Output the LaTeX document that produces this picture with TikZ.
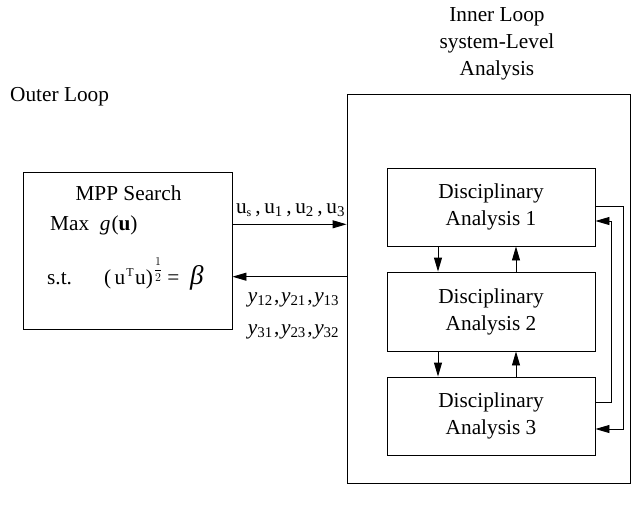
\documentclass[tikz,border=0pt]{standalone}
\usepackage{fontspec}
\setmainfont{Liberation Serif}
\usetikzlibrary{arrows.meta}
\begin{document}
\begin{tikzpicture}[x=1pt,y=-1pt,
  every node/.style={font=\fontsize{21.3}{27}\selectfont, inner sep=0pt},
  box/.style={draw, line width=0.9pt, minimum width=208pt},
  arr/.style={line width=0.9pt, -{Triangle[length=14pt,width=8pt]}},
  ln/.style={line width=0.9pt}]
\useasboundingbox (0,0) rectangle (638,515);

% headings
\node[anchor=base west] (outer) at (10,101) {Outer Loop};
\node[align=center, anchor=base] (inner) at (497,75) {Inner Loop\\system-Level\\Analysis};

% system-level frame
\node[draw, line width=0.9pt, minimum width=283pt, minimum height=389pt] (sys) at (488.5,288.5) {};

% MPP search block
\node[draw, line width=0.9pt, minimum width=209pt, minimum height=157pt] (mpp) at (127.5,250.5) {};
\node[anchor=base] (mpptitle) at (128.5,200.7) {MPP Search};
\node[anchor=base west] (mppmax) at (50,230) {Max\ \ \textit{g}\kern1pt(\textbf{u})};
\node[anchor=base west] (mppst) at (47,284) {s.t.\quad\ \ (\,u\kern1pt\textsuperscript{\fontsize{12}{12}\selectfont T}\kern1pt u)\kern1pt\raisebox{10.5pt}{\fontsize{12}{12}\selectfont$\displaystyle\frac{1}{2}$}\ =\ \ \textit{\fontsize{27}{27}\selectfont β}};

% disciplinary analyses
\node[box, minimum height=78pt, align=center] (d1) at (491,207) {Disciplinary\\Analysis 1};
\node[box, minimum height=79pt, align=center] (d2) at (491,311.5) {Disciplinary\\Analysis 2};
\node[box, minimum height=78pt, align=center] (d3) at (491,416) {Disciplinary\\Analysis 3};

% exchanges between the outer and inner loops
\draw[arr] (mpp.east |- 0,224.3) -- (sys.west |- 0,224.3);
\draw[arr] (sys.west |- 0,276.7) -- (mpp.east |- 0,276.7);
\node[anchor=base] (ulab) at (290.5,213) {u\textsubscript{\fontsize{12}{12}\selectfont s}\,,\,u\textsubscript{1}\,,\,u\textsubscript{2}\,,\,u\textsubscript{3}};
\node[anchor=base] (ylab1) at (293.5,302) {\textit{y}\textsubscript{12}\kern1.5pt,\kern1.5pt\textit{y}\textsubscript{21}\kern1.5pt,\kern1.5pt\textit{y}\textsubscript{13}};
\node[anchor=base] (ylab2) at (293.5,334) {\textit{y}\textsubscript{31}\kern1.5pt,\kern1.5pt\textit{y}\textsubscript{23}\kern1.5pt,\kern1.5pt\textit{y}\textsubscript{32}};

% couplings between neighbouring disciplines
\draw[arr] (d1.south -| 438,0) -- (d2.north -| 438,0);
\draw[arr] (d2.north -| 516,0) -- (d1.south -| 516,0);
\draw[arr] (d2.south -| 438,0) -- (d3.north -| 438,0);
\draw[arr] (d3.north -| 516,0) -- (d2.south -| 516,0);

% couplings between disciplines 1 and 3
\draw[arr] (d3.east |- 0,402) -| (611,221) -- (d1.east |- 0,221);
\draw[arr] (d1.east |- 0,206.7) -| (623.7,429) -- (d3.east |- 0,429);
\end{tikzpicture}
\end{document}
